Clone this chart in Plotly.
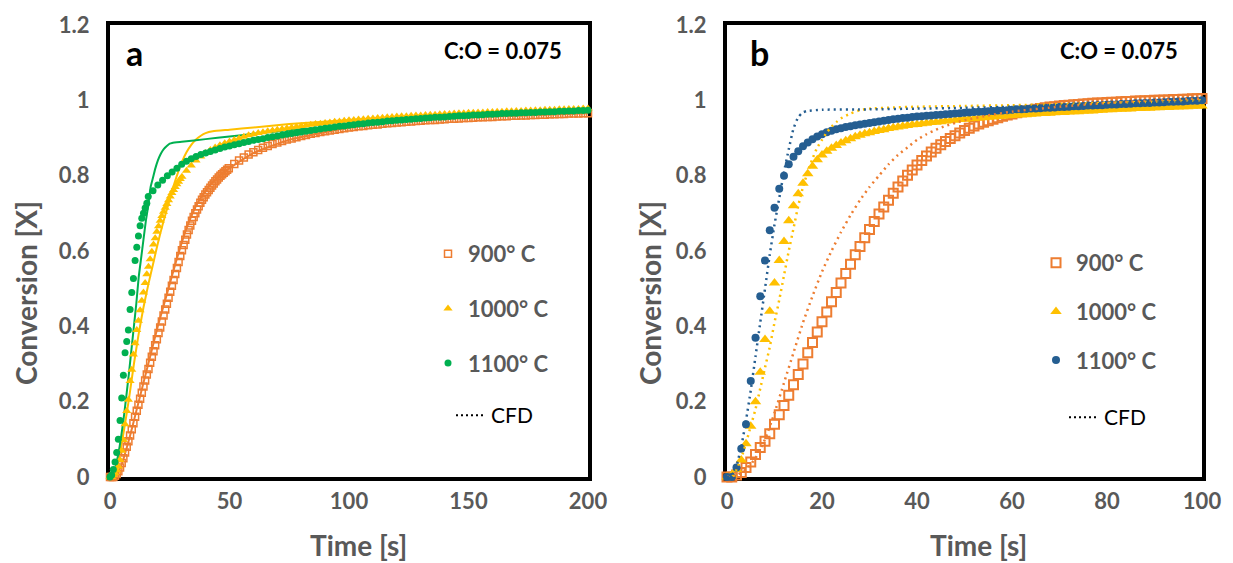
import plotly.graph_objects as go

# ---------------- panel a : sampling times and measured conversion ----------------
# logger runs at 0.7 s steps during the fast rise, 2 s steps afterwards
t900_a = [round(0.7 * i, 1) for i in range(72)] + list(range(52, 201, 2))
t1000_a = [round(0.7 * i, 1) for i in range(44)] + list(range(32, 201, 2))
t1100_a = [round(0.7 * i, 1) for i in range(23)] + list(range(16, 201, 2))

x900_a = [0, 0, 0, 0.003, 0.008, 0.015, 0.025, 0.037, 0.05, 0.065,
          0.08, 0.095, 0.11, 0.127, 0.143, 0.16, 0.176, 0.192, 0.208, 0.224,
          0.24, 0.256, 0.272, 0.287, 0.303, 0.319, 0.334, 0.35, 0.366, 0.382,
          0.397, 0.413, 0.429, 0.445, 0.46, 0.476, 0.492, 0.508, 0.523, 0.539,
          0.555, 0.571, 0.587, 0.602, 0.616, 0.63, 0.644, 0.656, 0.668, 0.68,
          0.69, 0.70, 0.71, 0.719, 0.728, 0.736, 0.743, 0.75, 0.756, 0.762,
          0.768, 0.774, 0.779, 0.785, 0.79, 0.795, 0.8, 0.804, 0.808, 0.812,
          0.816, 0.82,
          0.831, 0.84,
          0.848, 0.856, 0.862, 0.868, 0.874, 0.879, 0.884, 0.888, 0.892, 0.896,
          0.899, 0.902, 0.905, 0.908, 0.911, 0.913, 0.916, 0.918, 0.92, 0.922,
          0.924, 0.926, 0.928, 0.929, 0.931, 0.932, 0.934, 0.935, 0.936, 0.938,
          0.939, 0.94, 0.941, 0.942, 0.943, 0.944, 0.945, 0.946, 0.947, 0.948,
          0.948, 0.949, 0.95, 0.951, 0.951, 0.952, 0.953, 0.953, 0.954, 0.955,
          0.955, 0.956, 0.956, 0.957, 0.958, 0.958, 0.959, 0.959, 0.96, 0.96,
          0.961, 0.961, 0.962, 0.962, 0.963, 0.963, 0.964, 0.964, 0.965, 0.965,
          0.965, 0.966, 0.966]

x1000_a = [0, 0.0, 0.005, 0.01, 0.018, 0.028, 0.045, 0.07, 0.098, 0.14,
           0.175, 0.205, 0.255, 0.285, 0.325, 0.355, 0.39, 0.415, 0.443, 0.468,
           0.49, 0.515, 0.538, 0.558, 0.578, 0.598, 0.617, 0.634, 0.651, 0.666,
           0.68, 0.693, 0.704, 0.715, 0.725, 0.735, 0.745, 0.754, 0.762, 0.77,
           0.777, 0.784, 0.791, 0.797,
           0.813, 0.827,
           0.84, 0.851, 0.86, 0.868, 0.875, 0.881, 0.886, 0.891, 0.895, 0.899,
           0.903, 0.907, 0.91, 0.913, 0.915, 0.918, 0.92, 0.922, 0.924, 0.926,
           0.928, 0.93, 0.932, 0.933, 0.935, 0.937, 0.938, 0.94, 0.941, 0.943,
           0.944, 0.946, 0.947, 0.948, 0.949, 0.95, 0.951, 0.952, 0.953, 0.954,
           0.955, 0.956, 0.957, 0.958, 0.958, 0.959, 0.96, 0.96, 0.961, 0.962,
           0.962, 0.963, 0.964, 0.964, 0.965, 0.966, 0.966, 0.967, 0.967, 0.968,
           0.968, 0.969, 0.969, 0.97, 0.97, 0.971, 0.971, 0.972, 0.972, 0.973,
           0.973, 0.974, 0.974, 0.975, 0.975, 0.975, 0.976, 0.976, 0.977, 0.977,
           0.977, 0.978, 0.978]

x1100_a = [0, 0.005, 0.02, 0.04, 0.065, 0.10, 0.15, 0.21, 0.27, 0.33, 0.36, 0.39, 0.445,
           0.49, 0.527, 0.575, 0.61, 0.64, 0.667, 0.687, 0.70, 0.714, 0.727,
           0.745, 0.76, 0.775, 0.788, 0.80, 0.81, 0.82, 0.83, 0.838, 0.845,
           0.851, 0.856, 0.86, 0.864, 0.868, 0.872, 0.876, 0.879, 0.882, 0.885,
           0.888, 0.891, 0.894, 0.896, 0.898, 0.901, 0.903, 0.905, 0.908, 0.91,
           0.912, 0.914, 0.916, 0.918, 0.92, 0.922, 0.924, 0.926, 0.927, 0.929,
           0.931, 0.932, 0.934, 0.935, 0.937, 0.938, 0.94, 0.941, 0.942, 0.943,
           0.945, 0.946, 0.947, 0.948, 0.949, 0.95, 0.951, 0.952, 0.953, 0.954,
           0.955, 0.955, 0.956, 0.957, 0.958, 0.959, 0.959, 0.96, 0.961, 0.961,
           0.962, 0.963, 0.963, 0.964, 0.965, 0.965, 0.966, 0.966, 0.967, 0.967,
           0.968, 0.968, 0.969, 0.969, 0.97, 0.97, 0.971, 0.971, 0.972, 0.972,
           0.973, 0.973, 0.974]

# panel a : CFD predictions
cfd900_a_t = [0, 4, 8, 12, 16, 20, 24, 28, 32, 36, 40, 45, 50, 60, 75, 100, 125, 150, 200]
cfd900_a = [0, 0.02, 0.1, 0.2, 0.3, 0.4, 0.49, 0.58, 0.66, 0.72, 0.76, 0.795, 0.82, 0.86,
            0.895, 0.927, 0.945, 0.955, 0.966]
cfd1000_a_t = [0, 2, 4, 6, 8, 10, 12, 14, 16, 18, 20, 22, 24, 26, 28, 30, 32, 34, 36, 38, 40,
               43, 50, 60, 75, 100, 125, 150, 175, 200]
cfd1000_a = [0, 0.015, 0.06, 0.13, 0.21, 0.30, 0.38, 0.45, 0.51, 0.565, 0.62, 0.67, 0.715,
             0.76, 0.80, 0.835, 0.862, 0.882, 0.896, 0.906, 0.913, 0.918, 0.922, 0.928,
             0.937, 0.948, 0.958, 0.966, 0.972, 0.978]
cfd1100_a_t = [0, 2, 4, 6, 8, 10, 11, 12, 13, 14, 15, 16, 17, 18, 19, 20, 21, 22, 23, 24, 25,
               26, 30, 40, 50, 60, 75, 90, 100, 125, 150, 175, 200]
cfd1100_a = [0, 0.02, 0.08, 0.17, 0.28, 0.40, 0.46, 0.53, 0.58, 0.63, 0.68, 0.72, 0.77,
             0.795, 0.82, 0.84, 0.855, 0.866, 0.874, 0.88, 0.885, 0.887, 0.89, 0.897,
             0.904, 0.911, 0.921, 0.928, 0.934, 0.95, 0.96, 0.967, 0.974]

# ---------------- panel b : sampling times and measured conversion ----------------
t_b = list(range(0, 101))

x900_b = [0, 0, 0.005, 0.012, 0.025, 0.04, 0.06, 0.078, 0.095, 0.115,
          0.14, 0.165, 0.19, 0.217, 0.245, 0.272, 0.3, 0.33, 0.357, 0.385,
          0.412, 0.438, 0.465, 0.49, 0.515, 0.54, 0.565, 0.59, 0.612, 0.635,
          0.657, 0.678, 0.698, 0.717, 0.735, 0.753, 0.77, 0.786, 0.801, 0.815,
          0.828, 0.84, 0.852, 0.863, 0.873, 0.882, 0.891, 0.899, 0.906, 0.913,
          0.92, 0.926, 0.932, 0.937, 0.942, 0.946, 0.95, 0.954, 0.958, 0.961,
          0.964, 0.967, 0.97, 0.972, 0.974, 0.976, 0.978, 0.98, 0.982, 0.983,
          0.985, 0.986, 0.987, 0.988, 0.989, 0.99, 0.991, 0.992, 0.993, 0.993,
          0.994, 0.995, 0.995, 0.996, 0.997, 0.997, 0.998, 0.998, 0.999, 0.999,
          1.0, 1.0, 1.001, 1.001, 1.002, 1.002, 1.003, 1.003, 1.004, 1.004,
          1.005]

x1000_b = [0, 0.005, 0.02, 0.045, 0.088, 0.135, 0.20, 0.278, 0.365, 0.44,
           0.515, 0.575, 0.625, 0.68, 0.72, 0.752, 0.78, 0.805, 0.825, 0.842,
           0.855, 0.865, 0.873, 0.88, 0.887, 0.893, 0.898, 0.903, 0.907, 0.911,
           0.914, 0.917, 0.92, 0.922, 0.925, 0.927, 0.929, 0.931, 0.933, 0.935,
           0.936, 0.938, 0.939, 0.941, 0.942, 0.943, 0.945, 0.946, 0.947, 0.949,
           0.95, 0.951, 0.952, 0.953, 0.954, 0.955, 0.956, 0.957, 0.958, 0.959,
           0.96, 0.961, 0.962, 0.962, 0.963, 0.964, 0.965, 0.965, 0.966, 0.967,
           0.968, 0.968, 0.969, 0.97, 0.97, 0.971, 0.972, 0.972, 0.973, 0.974,
           0.975, 0.975, 0.976, 0.976, 0.977, 0.977, 0.978, 0.978, 0.979, 0.979,
           0.98, 0.98, 0.981, 0.981, 0.982, 0.982, 0.983, 0.983, 0.984, 0.984,
           0.985]

x1100_b = [0, 0.0, 0.025, 0.075, 0.14, 0.255, 0.37, 0.48, 0.575, 0.655,
           0.715, 0.765, 0.80, 0.83, 0.85, 0.865, 0.878, 0.888, 0.897, 0.904,
           0.91, 0.915, 0.919, 0.923, 0.926, 0.929, 0.931, 0.934, 0.936, 0.938,
           0.94, 0.942, 0.944, 0.946, 0.948, 0.95, 0.951, 0.953, 0.954, 0.956,
           0.957, 0.958, 0.959, 0.96, 0.961, 0.962, 0.963, 0.964, 0.965, 0.966,
           0.967, 0.968, 0.969, 0.97, 0.97, 0.971, 0.972, 0.973, 0.973, 0.974,
           0.975, 0.976, 0.976, 0.977, 0.978, 0.978, 0.979, 0.98, 0.98, 0.981,
           0.982, 0.982, 0.983, 0.984, 0.984, 0.985, 0.986, 0.986, 0.987, 0.987,
           0.988, 0.989, 0.989, 0.99, 0.99, 0.991, 0.992, 0.992, 0.993, 0.993,
           0.994, 0.994, 0.995, 0.996, 0.996, 0.997, 0.997, 0.998, 0.999, 0.999,
           1.0]

# panel b : CFD predictions
cfd900_b_t = [0, 2, 4, 6, 8, 10, 12, 14, 16, 18, 20, 22, 24, 26, 28, 30, 32, 34, 36, 38, 40,
              42, 44, 46, 48, 50, 55, 60, 70, 80, 90, 100]
cfd900_b = [0, 0.005, 0.02, 0.05, 0.1, 0.17, 0.25, 0.33, 0.41, 0.48, 0.545, 0.6, 0.65,
            0.695, 0.735, 0.77, 0.80, 0.83, 0.855, 0.875, 0.895, 0.91, 0.922, 0.932, 0.94,
            0.947, 0.96, 0.97, 0.983, 0.993, 1.0, 1.005]
cfd1000_b_t = [0, 1, 2, 3, 4, 5, 6, 7, 8, 9, 10, 11, 12, 13, 14, 15, 16, 17, 18, 19, 20, 21,
               22, 23, 24, 26, 28, 30, 35, 40, 50, 60, 70, 80, 90, 100]
cfd1000_b = [0, 0.0, 0.02, 0.05, 0.09, 0.135, 0.18, 0.235, 0.29, 0.345, 0.41, 0.47, 0.535,
             0.6, 0.66, 0.72, 0.77, 0.81, 0.845, 0.875, 0.895, 0.915, 0.93, 0.942, 0.952,
             0.965, 0.974, 0.978, 0.981, 0.983, 0.985, 0.987, 0.99, 0.993, 0.996, 1.0]
cfd1100_b_t = [0, 1, 2, 3, 4, 5, 6, 7, 8, 9, 10, 11, 12, 13, 14, 15, 16, 17, 20, 30, 40, 50,
               60, 70, 80, 90, 100]
cfd1100_b = [0, 0.005, 0.03, 0.08, 0.15, 0.23, 0.32, 0.41, 0.50, 0.59, 0.67, 0.74, 0.81,
             0.87, 0.925, 0.955, 0.968, 0.972, 0.975, 0.976, 0.978, 0.98, 0.983, 0.987,
             0.99, 0.994, 0.997]

y_ticks = [0, 0.2, 0.4, 0.6, 0.8, 1, 1.2]
y_tick_text = ["0", "0.2", "0.4", "0.6", "0.8", "1", "1.2"]
x_ticks_a = [0, 50, 100, 150, 200]
x_ticks_b = [0, 20, 40, 60, 80, 100]
labels = ["900° C", "1000° C", "1100° C"]

for tt, arr in ((t900_a, x900_a), (t1000_a, x1000_a), (t1100_a, x1100_a)):
    assert len(arr) == len(tt)
for arr in (x900_b, x1000_b, x1100_b):
    assert len(arr) == len(t_b)

# ---------------- styling ----------------
ORANGE = "#ED7D31"
YELLOW = "#FFC000"
GREEN = "#00B050"
BLUE = "#255E91"
GREY = "#595959"
FONT = "Lato"

W, H = 1233, 563


def px_x(p):
    return p / W


def px_y(p):
    return 1 - p / H


fig = go.Figure()


def exp_trace(t, x, name, color, symbol, size, lw, axis, legend, group):
    return go.Scatter(
        x=t, y=x, mode="markers", name=f"<b>{name}</b>",
        marker=dict(symbol=symbol, size=size, color=color,
                    line=dict(color=color, width=lw)),
        xaxis=axis[0], yaxis=axis[1], legend=legend, legendgroup=group,
        showlegend=True, cliponaxis=False)


def cfd_trace(t, x, color, dash, width, axis):
    return go.Scatter(
        x=t, y=x, mode="lines", line=dict(color=color, width=width, dash=dash,
                                          shape="spline", smoothing=0.5),
        xaxis=axis[0], yaxis=axis[1], showlegend=False, hoverinfo="skip",
        cliponaxis=False)


def cfd_key(axis, legend):
    return go.Scatter(x=[None], y=[None], mode="lines",
                      name="<span style='color:black'>CFD</span>",
                      line=dict(color="black", width=2, dash="2px,3px"),
                      xaxis=axis[0], yaxis=axis[1], legend=legend)


ax_a = ("x", "y")
ax_b = ("x2", "y2")

# panel a: model curves first, measurements on top
fig.add_trace(cfd_trace(cfd900_a_t, cfd900_a, ORANGE, "solid", 2, ax_a))
fig.add_trace(cfd_trace(cfd1000_a_t, cfd1000_a, YELLOW, "solid", 2, ax_a))
fig.add_trace(cfd_trace(cfd1100_a_t, cfd1100_a, GREEN, "solid", 2, ax_a))
fig.add_trace(exp_trace(t900_a, x900_a, labels[0], ORANGE, "square-open", 7, 1.5, ax_a, "legend", "a1"))
fig.add_trace(exp_trace(t1000_a, x1000_a, labels[1], YELLOW, "triangle-up", 8, 0, ax_a, "legend", "a2"))
fig.add_trace(exp_trace(t1100_a, x1100_a, labels[2], GREEN, "circle", 7, 0, ax_a, "legend", "a3"))
fig.add_trace(cfd_key(ax_a, "legend3"))

# panel b
fig.add_trace(exp_trace(t_b, x900_b, labels[0], ORANGE, "square-open", 9, 2, ax_b, "legend2", "b1"))
fig.add_trace(exp_trace(t_b, x1000_b, labels[1], YELLOW, "triangle-up", 10, 0, ax_b, "legend2", "b2"))
fig.add_trace(exp_trace(t_b, x1100_b, labels[2], BLUE, "circle", 8, 0, ax_b, "legend2", "b3"))
fig.add_trace(cfd_trace(cfd900_b_t, cfd900_b, ORANGE, "2px,4px", 2.5, ax_b))
fig.add_trace(cfd_trace(cfd1000_b_t, cfd1000_b, YELLOW, "2px,4px", 2.5, ax_b))
fig.add_trace(cfd_trace(cfd1100_b_t, cfd1100_b, BLUE, "2px,4px", 2.5, ax_b))
fig.add_trace(cfd_key(ax_b, "legend4"))

tick_font = dict(family=FONT, size=22, color=GREY, weight="bold")
common_x = dict(showgrid=False, zeroline=False, showline=True, linewidth=4,
                linecolor="black", mirror=True, ticks="", tickfont=tick_font,
                ticklabelstandoff=2, layer="below traces", fixedrange=True,
                automargin=False)
common_y = dict(showgrid=False, zeroline=False, showline=True, linewidth=4,
                linecolor="black", mirror=True, ticks="", tickfont=tick_font,
                range=[0, 1.2], tickvals=y_ticks, ticktext=y_tick_text,
                ticklabelstandoff=12, layer="below traces", fixedrange=True,
                automargin=False)


def legend_box(xp, yp, gap, size=22):
    return dict(x=px_x(xp), y=px_y(yp), font=dict(family=FONT, size=size, color=GREY),
                bgcolor="rgba(0,0,0,0)", traceorder="grouped", tracegroupgap=gap,
                itemsizing="trace", xanchor="left", yanchor="top", borderwidth=0)


fig.update_layout(
    width=W, height=H, margin=dict(l=0, r=0, t=0, b=0, pad=0, autoexpand=False),
    paper_bgcolor="white", plot_bgcolor="white",
    font=dict(family=FONT, color=GREY),
    xaxis=dict(domain=[px_x(110), px_x(588)], range=[0, 200], tickvals=x_ticks_a,
               anchor="y", **common_x),
    yaxis=dict(domain=[px_y(477), px_y(25)], anchor="x", **common_y),
    xaxis2=dict(domain=[px_x(727), px_x(1202)], range=[0, 100], tickvals=x_ticks_b,
                anchor="y2", **common_x),
    yaxis2=dict(domain=[px_y(477), px_y(25)], anchor="x2", **common_y),
    legend=legend_box(428, 233, 23),
    legend2=legend_box(1036, 242, 17),
    legend3=legend_box(451, 395, 0, 21),
    legend4=legend_box(1064, 397, 0, 21),
    showlegend=True,
)

ann = []
for cx, letter in ((124, "a"), (748, "b")):
    ann.append(dict(text=f"<b>{letter}</b>", x=px_x(cx), y=px_y(52), xref="paper",
                    yref="paper", showarrow=False, xanchor="left", yanchor="middle",
                    font=dict(family=FONT, size=34, color="black")))
for cx in (503, 1119):
    ann.append(dict(text="<b>C:O = 0.075</b>", x=px_x(cx), y=px_y(50), xref="paper",
                    yref="paper", showarrow=False, xanchor="center", yanchor="middle",
                    font=dict(family=FONT, size=22, color="black")))
for cx in (26, 650):
    ann.append(dict(text="<b>Conversion [X]</b>", x=px_x(cx), y=px_y(293), xref="paper",
                    yref="paper", showarrow=False, textangle=-90, xanchor="center",
                    yanchor="middle", font=dict(family=FONT, size=28, color=GREY)))
for cx in (358, 978):
    ann.append(dict(text="<b>Time [s]</b>", x=px_x(cx), y=px_y(545), xref="paper",
                    yref="paper", showarrow=False, xanchor="center", yanchor="middle",
                    font=dict(family=FONT, size=28, color=GREY)))
fig.update_layout(annotations=ann)

fig.write_html("out.html")
